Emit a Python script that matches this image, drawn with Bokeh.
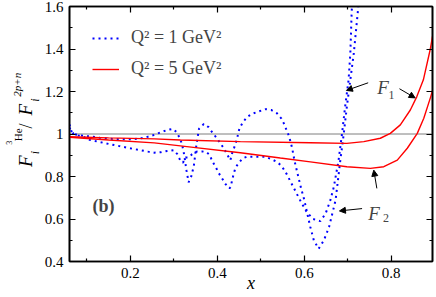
import math
from bokeh.plotting import figure
from bokeh.layouts import row
from bokeh.core.properties import value
from bokeh.models import (Span, Label, Arrow, NormalHead, FixedTicker, LinearAxis,
                          Legend, LegendItem, CustomJSTickFormatter, Range1d)
from bokeh.embed import file_html
from bokeh.resources import INLINE

# ---------------- data ----------------
# Q^2 = 1 GeV^2, F1 ratio (dotted)
x_f1_q1 = [0.060, 0.064, 0.070, 0.080, 0.092, 0.107, 0.130, 0.151, 0.175, 0.196, 0.220,
           0.241, 0.255, 0.270, 0.285, 0.300, 0.308, 0.315, 0.321, 0.327, 0.334, 0.342,
           0.352, 0.365, 0.375, 0.383, 0.388, 0.396, 0.403, 0.411, 0.419, 0.428, 0.431,
           0.434, 0.438, 0.442, 0.450, 0.458, 0.468, 0.490, 0.511, 0.524, 0.537, 0.548,
           0.560, 0.575, 0.590, 0.605, 0.620, 0.637, 0.649, 0.660, 0.668, 0.679, 0.687,
           0.694, 0.702, 0.706, 0.709, 0.711]
y_f1_q1 = [1.030, 1.012, 1.000, 0.993, 0.987, 0.972, 0.962, 0.953, 0.943, 0.934, 0.925,
           0.917, 0.912, 0.914, 0.920, 0.924, 0.905, 0.875, 0.865, 0.890, 0.890, 0.905,
           0.917, 0.918, 0.915, 0.900, 0.873, 0.846, 0.817, 0.791, 0.764, 0.744, 0.751,
           0.783, 0.814, 0.843, 0.865, 0.885, 0.893, 0.893, 0.893, 0.882, 0.869, 0.850,
           0.810, 0.750, 0.690, 0.635, 0.600, 0.590, 0.625, 0.688, 0.751, 0.877, 1.003,
           1.129, 1.255, 1.380, 1.570, 1.660]

# Q^2 = 1 GeV^2, F2 ratio (dotted)
x_f2_q1 = [0.060, 0.064, 0.070, 0.080, 0.095, 0.110, 0.130, 0.150, 0.170, 0.190, 0.210,
           0.225, 0.240, 0.255, 0.270, 0.285, 0.298, 0.306, 0.314, 0.319, 0.324, 0.329,
           0.334, 0.340, 0.346, 0.352, 0.358, 0.369, 0.380, 0.389, 0.399, 0.407, 0.415,
           0.422, 0.430, 0.434, 0.439, 0.445, 0.451, 0.459, 0.468, 0.480, 0.495, 0.511,
           0.524, 0.537, 0.547, 0.553, 0.559, 0.565, 0.572, 0.578, 0.585, 0.592, 0.600,
           0.607, 0.614, 0.622, 0.633, 0.645, 0.657, 0.672, 0.683, 0.691, 0.698, 0.706,
           0.714, 0.723, 0.727]
y_f2_q1 = [1.045, 1.015, 1.000, 0.995, 0.991, 0.988, 0.982, 0.978, 0.976, 0.975, 0.976,
           0.980, 0.987, 0.996, 1.008, 1.019, 1.024, 1.010, 0.980, 0.951, 0.900, 0.830,
           0.773, 0.800, 0.850, 0.950, 1.025, 1.047, 1.032, 1.006, 0.980, 0.956, 0.933,
           0.906, 0.876, 0.909, 0.937, 0.975, 1.027, 1.055, 1.079, 1.095, 1.106, 1.117,
           1.113, 1.098, 1.074, 1.050, 1.020, 0.990, 0.935, 0.870, 0.810, 0.750, 0.690,
           0.625, 0.562, 0.500, 0.460, 0.499, 0.562, 0.688, 0.877, 1.003, 1.129, 1.255,
           1.381, 1.570, 1.660]

# Q^2 = 5 GeV^2, F1 ratio (solid)
x_f1_q5 = [0.060, 0.150, 0.255, 0.315, 0.453, 0.614, 0.698, 0.737, 0.775, 0.798, 0.821,
           0.844, 0.859, 0.874, 0.890, 0.895]
y_f1_q5 = [0.987, 0.982, 0.977, 0.972, 0.964, 0.959, 0.956, 0.964, 0.980, 1.003, 1.043,
           1.113, 1.176, 1.255, 1.400, 1.460]

# Q^2 = 5 GeV^2, F2 ratio (solid)
x_f2_q5 = [0.060, 0.150, 0.255, 0.350, 0.453, 0.545, 0.614, 0.698, 0.752, 0.783, 0.814,
           0.837, 0.860, 0.875, 0.891, 0.895]
y_f2_q5 = [0.985, 0.972, 0.958, 0.936, 0.912, 0.887, 0.869, 0.846, 0.838, 0.846, 0.877,
           0.933, 1.003, 1.074, 1.176, 1.205]

x_ticks = [0.2, 0.4, 0.6, 0.8]
x_minor = [0.1, 0.3, 0.5, 0.7, 0.9]
y_ticks = [0.4, 0.6, 0.8, 1.0, 1.2, 1.4, 1.6]
y_tick_labels = ["0.4", "0.6", "0.8", "1", "1.2", "1.4", "1.6"]
y_minor = [0.5, 0.7, 0.9, 1.1, 1.3, 1.5]

SERIF = "Liberation Serif"

# ---------------- main figure ----------------
p = figure(width=396, height=297, output_backend="svg", toolbar_location=None, title=None,
           x_range=Range1d(0.06, 0.895), y_range=Range1d(0.4, 1.6),
           min_border_left=29, min_border_right=4, min_border_top=6, min_border_bottom=36,
           background_fill_color="white", border_fill_color="white")
p.grid.visible = False
p.outline_line_color = "black"
p.outline_line_width = 1.6

xt = FixedTicker(ticks=x_ticks, minor_ticks=x_minor)
yt = FixedTicker(ticks=y_ticks, minor_ticks=y_minor)
yfmt = CustomJSTickFormatter(args=dict(yvals=y_ticks, ylabs=y_tick_labels),
                             code="const i = yvals.findIndex(t => Math.abs(t - tick) < 1e-9); return i >= 0 ? ylabs[i] : '';")
blank = CustomJSTickFormatter(code="return '';")


def style_axis(ax, show_labels, standoff):
    ax.axis_line_width = 1.6
    ax.axis_line_color = "black"
    ax.major_tick_in = 6
    ax.major_tick_out = 0
    ax.minor_tick_in = 3
    ax.minor_tick_out = 0
    ax.major_tick_line_width = 1.2
    ax.minor_tick_line_width = 1.2
    ax.major_label_text_font = SERIF
    ax.major_label_text_font_size = "15px"
    ax.major_label_text_color = "black"
    ax.major_label_standoff = standoff if show_labels else 0


p.xaxis.ticker = xt
p.yaxis.ticker = yt
p.yaxis.formatter = yfmt
style_axis(p.xaxis[0], True, 6)
style_axis(p.yaxis[0], True, 6)
p.xaxis.axis_label = "x"
p.xaxis.axis_label_text_font = SERIF
p.xaxis.axis_label_text_font_style = "italic"
p.xaxis.axis_label_text_font_size = "18px"
p.xaxis.axis_label_text_color = "black"
p.xaxis.axis_label_standoff = -8

top_ax = LinearAxis(ticker=xt, formatter=blank)
right_ax = LinearAxis(ticker=yt, formatter=blank)
style_axis(top_ax, False, 0)
style_axis(right_ax, False, 0)
p.add_layout(top_ax, "above")
p.add_layout(right_ax, "right")

p.add_layout(Span(location=1.0, dimension="width", line_color="#7f7f7f", line_width=1,
                  level="underlay"))

r_f1_q1 = p.line(x_f1_q1, y_f1_q1, line_color="#0000ff", line_width=2, line_dash="2 4")
r_f2_q1 = p.line(x_f2_q1, y_f2_q1, line_color="#0000ff", line_width=2, line_dash="2 4")
r_f1_q5 = p.line(x_f1_q5, y_f1_q5, line_color="#ff0000", line_width=1.4)
r_f2_q5 = p.line(x_f2_q5, y_f2_q5, line_color="#ff0000", line_width=1.4)

legend = Legend(items=[LegendItem(label="Q\u00b2 = 1 GeV\u00b2", renderers=[r_f1_q1]),
                       LegendItem(label="Q\u00b2 = 5 GeV\u00b2", renderers=[r_f1_q5])],
                location=(23, 182), margin=0, padding=0, spacing=10,
                glyph_width=27, glyph_height=20, label_height=20, label_standoff=12,
                label_text_font=SERIF, label_text_font_size="18px",
                background_fill_alpha=0, border_line_alpha=0)
p.add_layout(legend)

# panel label
p.add_layout(Label(x=23, y=46, x_units="screen", y_units="screen", text="(b)",
                   text_font=SERIF, text_font_style="bold", text_font_size="18px"))

# curve annotations
for t, x, y, fs, st in [("F", 0.768, 1.217, "19px", "italic"), ("1", 0.794, 1.184, "12px", "normal"),
                        ("F", 0.747, 0.627, "19px", "italic"), ("2", 0.781, 0.603, "12px", "normal")]:
    p.add_layout(Label(x=x, y=y, text=t, text_align="left", text_baseline="alphabetic",
                       text_font=SERIF, text_font_style=st, text_font_size=fs))

for xs, ys, xe, ye in [(0.747, 1.241, 0.697, 1.205), (0.819, 1.213, 0.855, 1.170),
                       (0.733, 0.649, 0.681, 0.638), (0.767, 0.744, 0.760, 0.830)]:
    p.add_layout(Arrow(end=NormalHead(size=6, fill_color="black", line_color="black"),
                       x_start=xs, y_start=ys, x_end=xe, y_end=ye,
                       line_color="black", line_width=1))

# rotated y-axis title in a narrow strip (pixel coordinates of the strip)
yfig = figure(width=40, height=297, output_backend="svg", toolbar_location=None, title=None,
              x_range=Range1d(0, 40), y_range=Range1d(0, 297),
              x_axis_type=None, y_axis_type=None, min_border=0,
              background_fill_color="white", border_fill_color="white")
yfig.outline_line_color = None
yfig.grid.visible = False
ypieces = [
    ("F", 25, 110, "19px", "italic"),
    ("i", 34, 125, "12px", "italic"),
    ("3", 8, 136, "8px", "normal"),
    ("He", 17, 140, "11px", "normal"),
    ("/", 25, 155, "18px", "normal"),
    ("F", 25, 170, "19px", "italic"),
    ("i", 34, 186, "12px", "italic"),
    ("2p+n", 16, 192, "11px", "italic"),
]
for t, x, y, fs, st in ypieces:
    yfig.text(x=[x], y=[y], text=[t], angle=math.pi / 2, text_align="left",
              text_baseline="alphabetic", text_font=value(SERIF), text_font_style=st,
              text_font_size=fs, text_color="black")

layout = row(yfig, p)
open("out.html", "w").write(file_html(layout, INLINE))
